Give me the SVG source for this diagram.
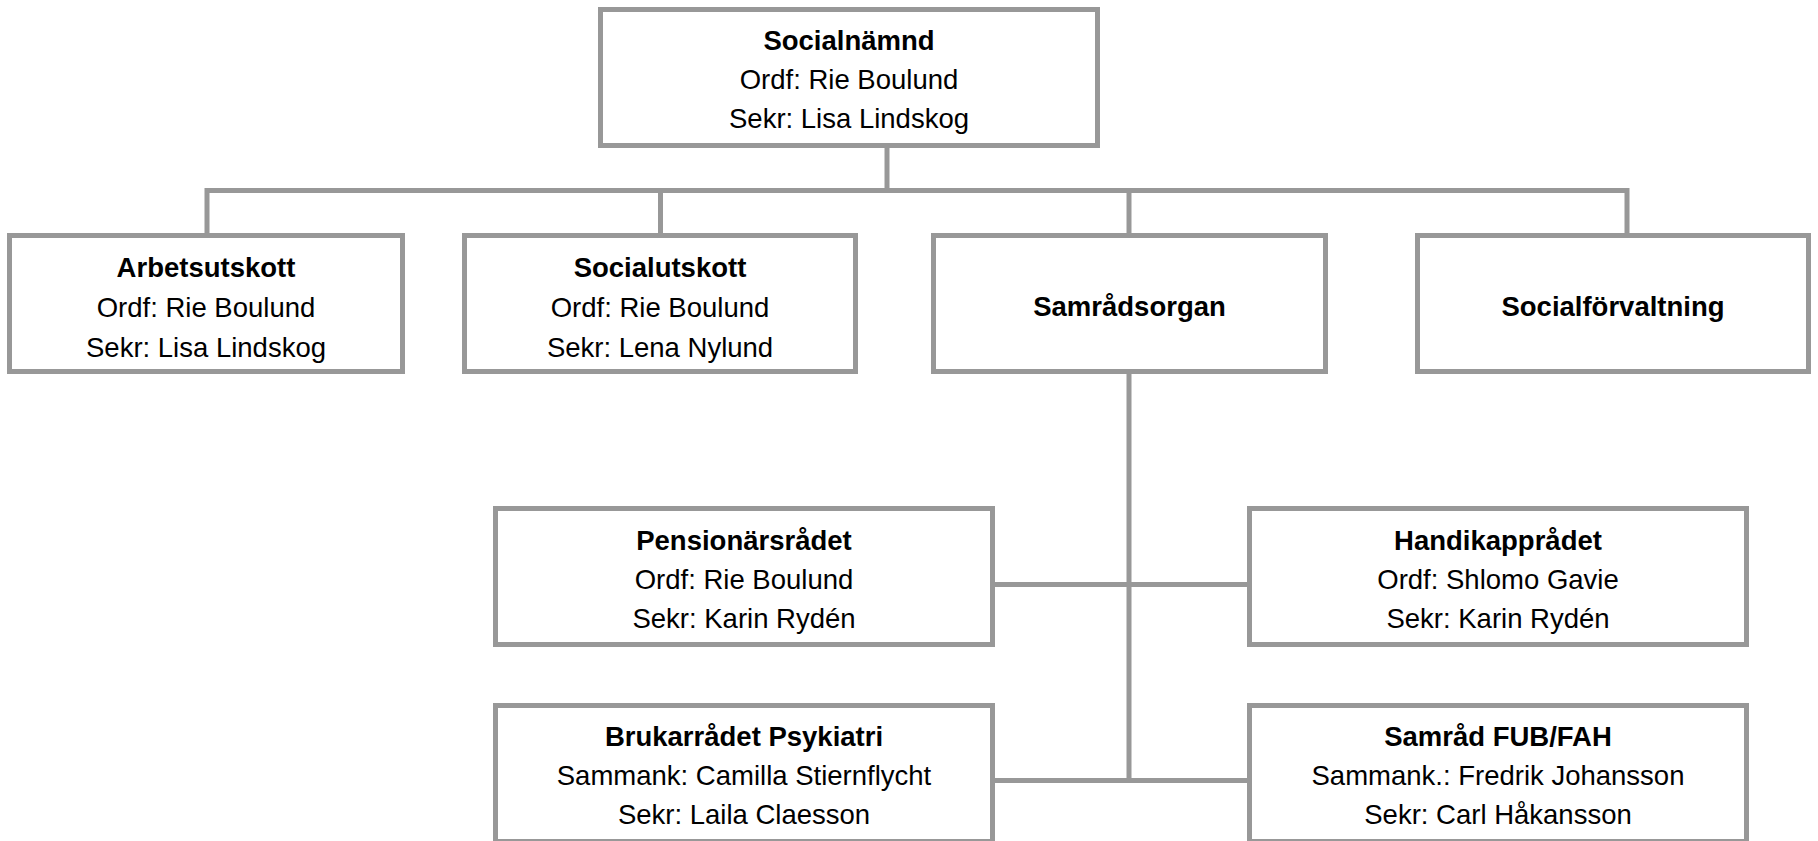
<svg xmlns="http://www.w3.org/2000/svg" width="1818" height="841" viewBox="0 0 1818 841">
  <style>
    .box { fill: #ffffff; stroke: #989898; stroke-width: 5; }
    .conn { fill: none; stroke: #989898; stroke-width: 5; stroke-linejoin: miter; stroke-linecap: butt; }
    text { font-family: "Liberation Sans", Arial, sans-serif; font-size: 27.5px; fill: #000000; text-anchor: middle; }
    .t { font-weight: bold; }
  </style>
  <rect x="0" y="0" width="1818" height="841" fill="#ffffff"/>
  <g id="connectors">
    <path class="conn" d="M887 148 V190.5"/>
    <path class="conn" d="M207 233 V190.5 H1627 V233"/>
    <path class="conn" d="M660.5 190.5 V233"/>
    <path class="conn" d="M1129 190.5 V233"/>
    <path class="conn" d="M1129 374 V780.5"/>
    <path class="conn" d="M995 584.5 H1247"/>
    <path class="conn" d="M995 780.5 H1247"/>
  </g>
  <g id="socialnamnd">
    <rect class="box" x="600.5" y="9.5" width="497" height="136"/>
    <text class="t" x="849" y="50">Socialnämnd</text>
    <text x="849" y="89">Ordf: Rie Boulund</text>
    <text x="849" y="128">Sekr: Lisa Lindskog</text>
  </g>
  <g id="arbetsutskott">
    <rect class="box" x="9.5" y="235.5" width="393" height="136"/>
    <text class="t" x="206" y="277">Arbetsutskott</text>
    <text x="206" y="317">Ordf: Rie Boulund</text>
    <text x="206" y="357">Sekr: Lisa Lindskog</text>
  </g>
  <g id="socialutskott">
    <rect class="box" x="464.5" y="235.5" width="391" height="136"/>
    <text class="t" x="660" y="277">Socialutskott</text>
    <text x="660" y="317">Ordf: Rie Boulund</text>
    <text x="660" y="357">Sekr: Lena Nylund</text>
  </g>
  <g id="samradsorgan">
    <rect class="box" x="933.5" y="235.5" width="392" height="136"/>
    <text class="t" x="1129.5" y="316">Samrådsorgan</text>
  </g>
  <g id="socialforvaltning">
    <rect class="box" x="1417.5" y="235.5" width="391" height="136"/>
    <text class="t" x="1613" y="316">Socialförvaltning</text>
  </g>
  <g id="pensionarsradet">
    <rect class="box" x="495.5" y="508.5" width="497" height="136"/>
    <text class="t" x="744" y="550">Pensionärsrådet</text>
    <text x="744" y="589">Ordf: Rie Boulund</text>
    <text x="744" y="628">Sekr: Karin Rydén</text>
  </g>
  <g id="handikappradet">
    <rect class="box" x="1249.5" y="508.5" width="497" height="136"/>
    <text class="t" x="1498" y="550">Handikapprådet</text>
    <text x="1498" y="589">Ordf: Shlomo Gavie</text>
    <text x="1498" y="628">Sekr: Karin Rydén</text>
  </g>
  <g id="brukarradet">
    <rect class="box" x="495.5" y="705.5" width="497" height="136"/>
    <text class="t" x="744" y="746">Brukarrådet Psykiatri</text>
    <text x="744" y="785">Sammank: Camilla Stiernflycht</text>
    <text x="744" y="824">Sekr: Laila Claesson</text>
  </g>
  <g id="samrad-fub-fah">
    <rect class="box" x="1249.5" y="705.5" width="497" height="136"/>
    <text class="t" x="1498" y="746">Samråd FUB/FAH</text>
    <text x="1498" y="785">Sammank.: Fredrik Johansson</text>
    <text x="1498" y="824">Sekr: Carl Håkansson</text>
  </g>
</svg>
